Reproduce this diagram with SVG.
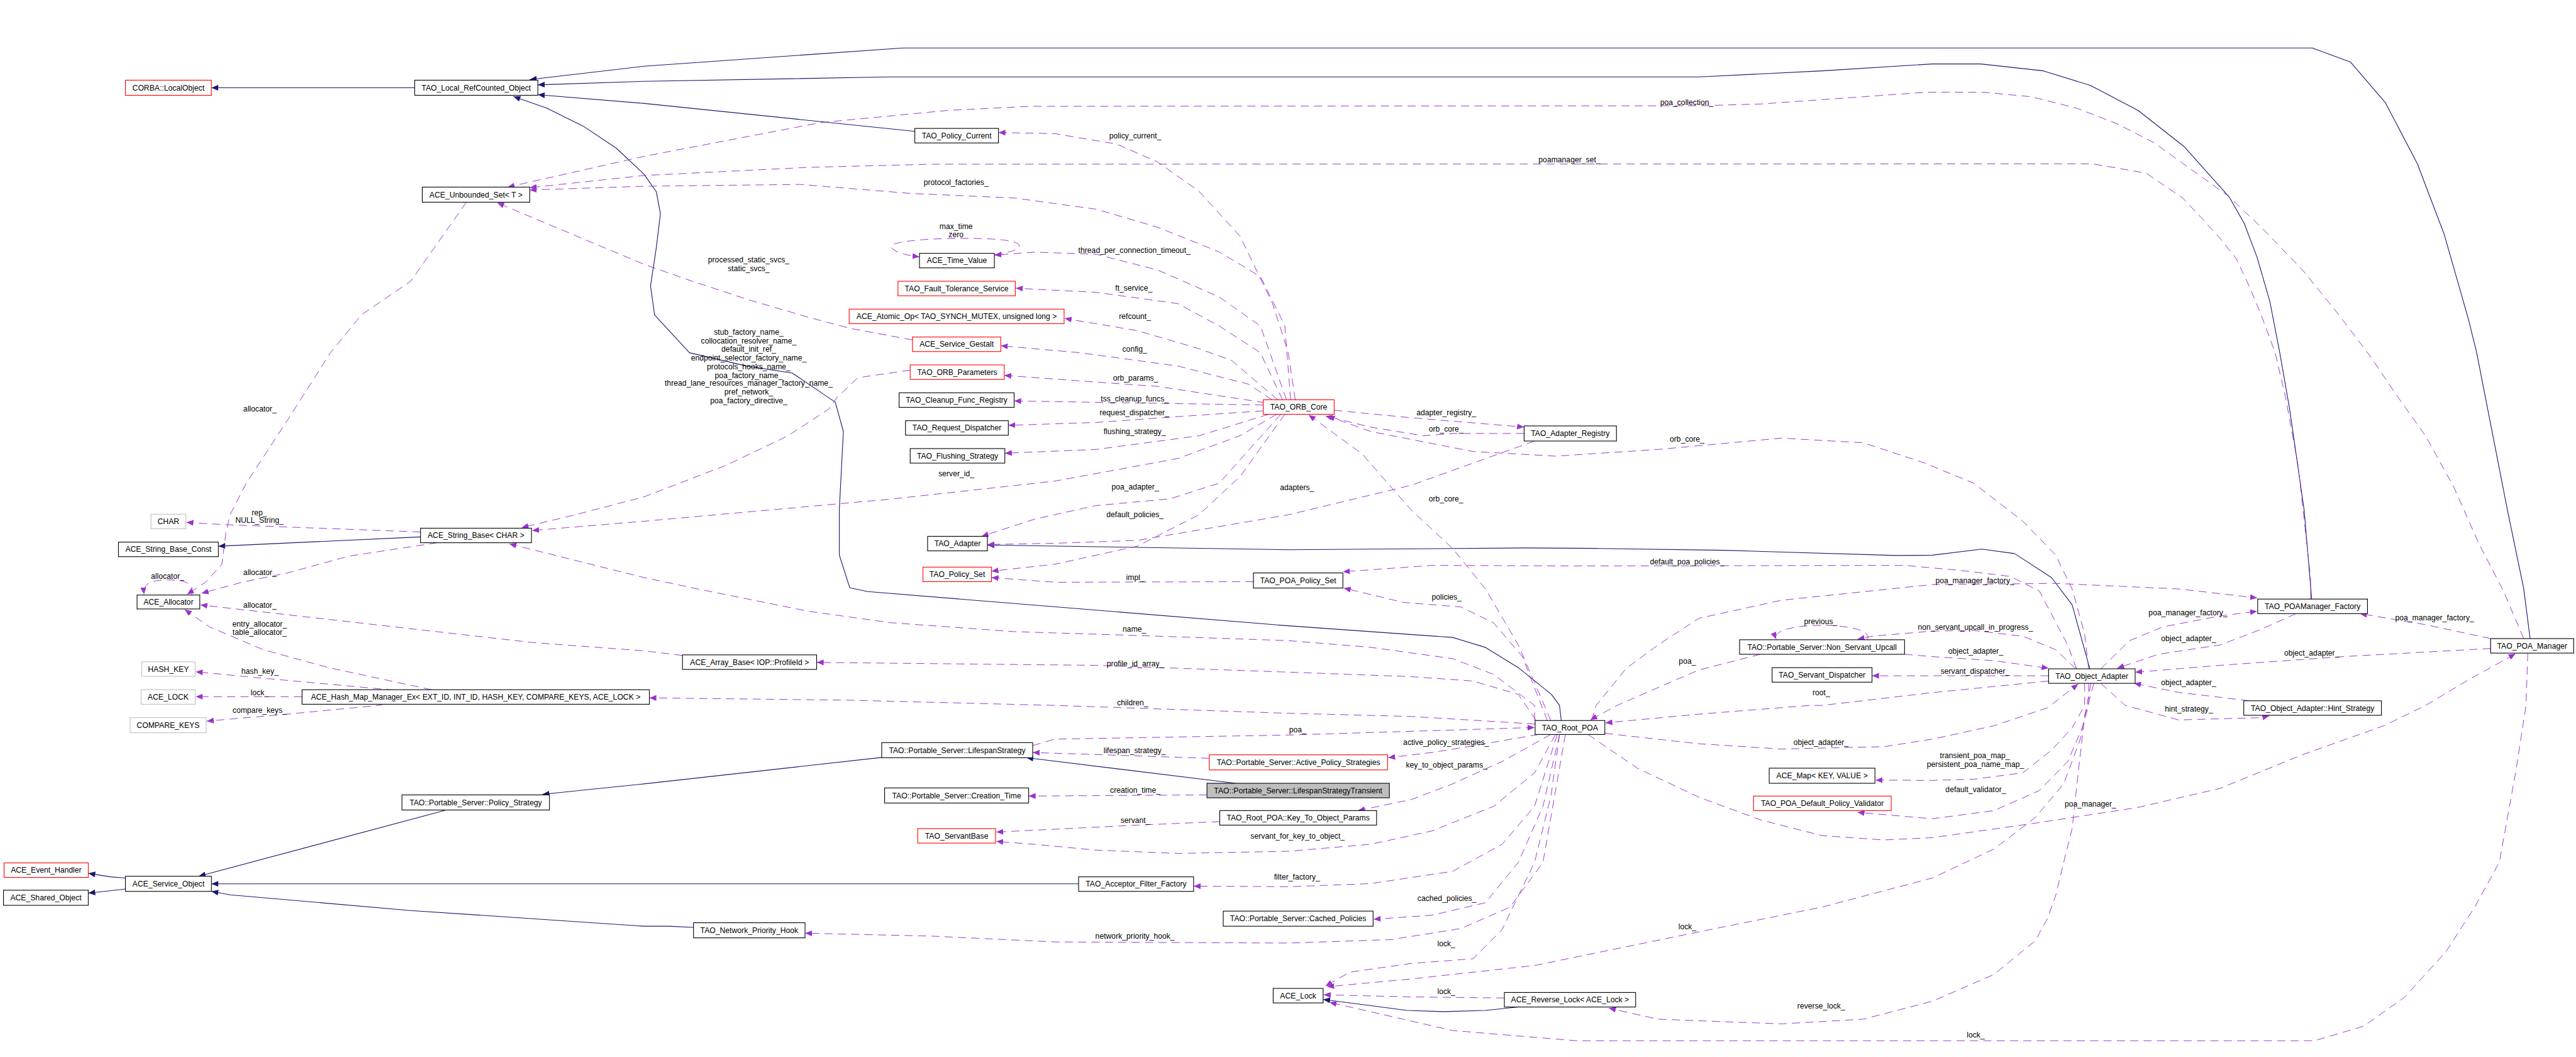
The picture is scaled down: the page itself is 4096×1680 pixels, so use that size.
<svg xmlns="http://www.w3.org/2000/svg" width="4096" height="1680" viewBox="0 0 4096 1680">
<style>
.n rect{fill:#fff;stroke:#000;stroke-width:1.2}
.r rect{stroke:#ff0000}
.g rect{stroke:#bfbfbf}
.f rect{fill:#bfbfbf}
text{font-family:"Liberation Sans",Arial,sans-serif;font-size:13.2px;text-anchor:middle;fill:#000}
.i{fill:none;stroke:#191970;stroke-width:1.2;stroke-linejoin:round;marker-end:url(#ai)}
.u{fill:none;stroke:#9a32cd;stroke-width:1.05;stroke-linejoin:round;stroke-dasharray:14 9;marker-end:url(#au)}
</style>
<defs>
<marker id="ai" markerUnits="userSpaceOnUse" markerWidth="12" markerHeight="10" refX="12" refY="5" orient="auto"><path d="M0,0 L12,5 L0,10 z" fill="#191970"/></marker>
<marker id="au" markerUnits="userSpaceOnUse" markerWidth="12" markerHeight="10" refX="12" refY="5" orient="auto"><path d="M0,0 L12,5 L0,10 z" fill="#9a32cd"/></marker>
</defs>
<rect width="4096" height="1680" fill="#fff"/>
<g transform="scale(0.92356)">
<g id="connectors">
<polyline class="i" points="714,151 364,151"/>
<polyline class="i" points="4356,1099 4345,1013 4317,878 4264,607 4250,550 4208,403 4162,282 4107,177 4047,107 3981,82.5 1555,82.5 1109,114 912,137"/>
<polyline class="i" points="3980,1031 3967,878 3942,704 3925,607 3908,519 3886,443 3864,385 3838,339 3760,252 3681,190 3599,147 3518,122 3410,110 3327,110 3137,122 2925,132.4 1531,132.4 1109,140 926,146"/>
<polyline class="i" points="1575,226 1109,178 926,163"/>
<polyline class="i" points="2688,1240 2685,1214 2671,1195 2614,1149 2557,1114 2501,1097 2218,1077 1494,1018 1463,1011.5 1445,955 1445,878 1452,742.5 1438,692 1364,642 1286,630 1187,607 1127,542 1120,492 1130,426 1137,368 1130,330 1109,300 1061,255 1004,217 941,186 884,166"/>
<polyline class="i" points="3598,1151 3567.5,1040.6 3532,994 3468.5,952.7 3412,945 3327,955.4 3265,956 2968,947 2748.5,943.8 2628,943 2218,946 1700,938"/>
<polyline class="i" points="724,924 376,940"/>
<polyline class="i" points="216,1511 190,1509 152,1503"/>
<polyline class="i" points="216,1530 180,1534 152,1537"/>
<polyline class="i" points="766,1394.6 342,1508"/>
<polyline class="i" points="1857,1521 364,1521"/>
<polyline class="i" points="1194,1596 1151,1594 1109,1594 707,1567 396,1540 364,1534"/>
<polyline class="i" points="1518,1303.5 1109,1349 934,1367"/>
<polyline class="i" points="2127.5,1348 1767,1304"/>
<polyline class="i" points="2614,1733 2557,1739 2487,1741 2423,1739 2278,1720"/>

<g><polyline class="u" points="4345,1099 4310,1017 4268,936 4225,839 4176,750 4126,680 4082,615 4027,542 3964,464.5 3893,391 3836,337 3765.5,286.5 3709,246 3645,213 3575,186 3497,166.5 3415,158.7 3317,158.7 3208,166.5 3031,179 2925,182 1774,183 1632,190 1413,211 1109,269 874,322"/><text x="2904" y="180.6">poa_collection_</text></g>
<g><polyline class="u" points="3978,1031 3978,994 3956.5,800.6 3935,684 3917,607 3893,542 3872,491.6 3850,445 3822,410 3794,379 3758,341 3695,298 3603,282 1604,282.6 1392,288 1109,302 912,323"/><text x="2702" y="279.5">poamanager_set_</text></g>
<g><polyline class="u" points="2222,688 2212,560 2170,476 2099,433.6 1993,391 1887,360 1745.5,340.7 1569,333 1378,317.4 1109,320.5 912,327"/><text x="1646" y="318.2">protocol_factories_</text></g>
<g><polyline class="u" points="1571,585 1463,565 1392,546 1286,515 1180,480 1109,455 856,349"/><text x="1289" y="451.6">processed_static_svcs_</text><text x="1289" y="466.6">static_svcs_</text></g>
<g><polyline class="u" points="803,348 707,484 622,542 569,607 495,723 424,831.5 396,886 389,917 382,971 354,1002 322,1023"/><text x="447.5" y="708.6">allocator_</text></g>
<g><path class="u" d="M330,1024 C336,1004 318,998 290,998 C260,998 246,1004 248,1023"/><text x="288.5" y="996">allocator_</text></g>
<g><polyline class="u" points="753,934 601,957 495,986 417,1002 347,1021"/><text x="447.5" y="990.2">allocator_</text></g>
<g><polyline class="u" points="743,1187 566,1149 453,1118 361,1079 318,1049"/><text x="447" y="1078.6">entry_allocator_</text><text x="447" y="1092">table_allocator_</text></g>
<g><polyline class="u" points="1175,1128 1109,1120 919,1106 566,1066 345,1041"/><text x="447.5" y="1046.4">allocator_</text></g>
<g><polyline class="u" points="724,915.5 495,907 389,903 321,899"/><text x="446.6" y="886.6">rep_</text><text x="446.6" y="900">NULL_String_</text></g>
<g><polyline class="u" points="679,1187.7 424,1164.5 337,1156"/><text x="447.5" y="1160.2">hash_key_</text></g>
<g><polyline class="u" points="520,1199 337,1199"/><text x="447" y="1196.2">lock_</text></g>
<g><polyline class="u" points="661,1212 651,1214 495,1229 356,1241"/><text x="447" y="1227.1">compare_keys_</text></g>
<g><polyline class="u" points="1567,637 1477,650 1441,684 1427,704 1356.5,750 1250.5,800.6 1109,855 990,886 898,908"/>
<text x="1289" y="576.4">stub_factory_name_</text><text x="1289" y="591.5">collocation_resolver_name_</text><text x="1289" y="605.8">default_init_ref_</text><text x="1289" y="620.1">endpoint_selector_factory_name_</text><text x="1289" y="635.2">protocols_hooks_name_</text><text x="1289" y="650.3">poa_factory_name_</text><text x="1289" y="664.2">thread_lane_resources_manager_factory_name_</text><text x="1289" y="679.3">pref_network_</text><text x="1289" y="694.4">poa_factory_directive_</text></g>
<g><polyline class="u" points="2198,713 2134.5,750 2028,789 1816,828 1533,859 1109,897 916,913"/><text x="1646.5" y="819.5">server_id_</text></g>
<g><polyline class="u" points="2642,1240 2642,1214 2571.6,1160.6 2501,1133.5 2359.5,1114 2218,1102.5 1993,1094.8 1745.5,1087 1533,1071.6 1392,1052 1201,1013.5 1109,994 877,936"/><text x="1953" y="1086.6">name_</text></g>
<g><path class="u" d="M1712,438 C1765,432 1778,414 1700,411 C1620,408 1522,414 1535,427 C1545,436 1565,440 1583,442"/><text x="1646" y="394.4">max_time</text><text x="1646" y="408.6">zero</text></g>
<g><polyline class="u" points="2215,688 2170,561 2099,511 1993,464.6 1887,437.5 1781,434 1712,439"/><text x="1953" y="435.6">thread_per_connection_timeout_</text></g>
<g><polyline class="u" points="2208,688 2170,607 2099,561 2028,522.6 1887,503 1749,496"/><text x="1952" y="500.1">ft_service_</text></g>
<g><polyline class="u" points="2200,688 2120,620 2064,600 1958,569 1833,548"/><text x="1954" y="548.6">refcount_</text></g>
<g><polyline class="u" points="2190,688 2149,661 2028,630 1859,607 1723,595"/><text x="1953.5" y="605.6">config_</text></g>
<g><polyline class="u" points="2178,693 1993,665 1852,655 1729,646"/><text x="1955" y="655.3">orb_params_</text></g>
<g><polyline class="u" points="2175,697 1746,690"/><text x="1953.5" y="691.3">tss_cleanup_funcs_</text></g>
<g><polyline class="u" points="2175,707 2028,717 1887,727 1736,732"/><text x="1953" y="714.2">request_dispatcher_</text></g>
<g><polyline class="u" points="2184,713 2064,750 1887,773.5 1730,780"/><text x="1953.5" y="747.1">flushing_strategy_</text></g>
<g><polyline class="u" points="2205,713 2099,831.5 2014,858.6 1887,870 1781,893.5 1690,923"/><text x="1954.5" y="842.6">poa_adapter_</text></g>
<g><polyline class="u" points="2212,713 2135,820 2064,886 1958,940 1816,971 1707,983"/><text x="1954" y="890.3">default_policies_</text></g>
<g><polyline class="u" points="2642,759 2430,835 2218,886 1958,930 1816,935 1700,937"/><text x="2233" y="843.9">adapters_</text></g>
<g><polyline class="u" points="2297,706 2430,719 2624,735"/><text x="2490" y="714.2">adapter_registry_</text></g>
<g><polyline class="u" points="2624,746 2501,746 2451,750 2359.5,735 2282,716"/><text x="2489.5" y="743.2">orb_core_</text></g>
<g><polyline class="u" points="3596,1151 3589,1091 3567.5,1013.5 3539,955 3482.6,897 3398,831.5 3314,797 3208,762 3067,754 2854.5,773.5 2678,785 2536,777 2359.5,742.5 2286,716"/><text x="2904.5" y="760.6">orb_core_</text></g>
<g><polyline class="u" points="2670,1240 2614,1110 2557.5,1013.5 2501,944 2430,878 2345,781 2253,714"/><text x="2489.5" y="862.5">orb_core_</text></g>
<g><polyline class="u" points="2230,688 2218,607 2191,522.6 2135,406.5 2064,329 1993,278.7 1922,247.8 1816,230 1719,228"/><text x="1954.5" y="238.4">policy_current_</text></g>
<g><polyline class="u" points="2158,1001 1816,1002 1707,994"/><text x="1954.5" y="998.6">impl_</text></g>
<g><polyline class="u" points="3575,1151 3560,1110 3511,1017 3461,992 3383.6,982.5 3279,973 2713,974 2465.5,973 2312,984"/><text x="2904.5" y="971.2">default_poa_policies_</text></g>
<g><polyline class="u" points="2664,1240 2621,1130 2571.6,1072 2515,1044.5 2416,1036.7 2313.5,1012"/><text x="2490.5" y="1032.4">policies_</text></g>
<g><polyline class="u" points="2740,1240 2748,1214 2800,1150 2854.5,1110 2925,1064 3067,1033 3327,1006 3539,1004 3751,1013.5 3886,1029"/><text x="3400" y="1003.4">poa_manager_factory_</text></g>
<g><polyline class="u" points="3617,1151 3666.5,1102.5 3723,1079 3822,1060 3886,1052"/><text x="3767" y="1059.5">poa_manager_factory_</text></g>
<g><polyline class="u" points="4288,1099 4176,1075 4063,1056"/><text x="4191.5" y="1067.2">poa_manager_factory_</text></g>
<g><polyline class="u" points="3953,1056 3893,1083 3822,1110 3716,1126 3645,1150"/><text x="3768" y="1103.2">object_adapter_</text></g>
<g><polyline class="u" points="4288,1116 4034,1130 3822,1145 3676,1157"/><text x="3980" y="1128.4">object_adapter_</text></g>
<g><polyline class="u" points="3872,1206 3751,1191.6 3674,1176"/><text x="3768" y="1179.5">object_adapter_</text></g>
<g><polyline class="u" points="2763,1262 2925,1280 3067,1289 3243.5,1285 3327,1272 3433,1249 3525,1218 3578,1177"/><text x="3135" y="1282.3">object_adapter_</text></g>
<g><polyline class="u" points="3279,1126 3327,1130 3433,1137 3527,1150"/><text x="3401.5" y="1124.6">object_adapter_</text></g>
<g><polyline class="u" points="3574,1151 3539,1118 3483,1095 3398,1085 3327,1086 3222,1095 3198,1100"/><text x="3401" y="1083.6">non_servant_upcall_in_progress_</text></g>
<g><path class="u" d="M3215,1101 C3232,1068 3044,1068 3058,1100"/><text x="3134.5" y="1074.2">previous_</text></g>
<g><polyline class="u" points="3031,1126 2925,1153 2890,1168 2784,1214 2738,1239"/><text x="2905" y="1142.6">poa_</text></g>
<g><polyline class="u" points="3527,1163 3223,1163"/><text x="3400.5" y="1159.4">servant_dispatcher_</text></g>
<g><polyline class="u" points="3527,1172 3327,1192 3137,1214 3116,1214 2925,1229 2764,1244"/><text x="3135.5" y="1196.6">root_</text></g>
<g><polyline class="u" points="3617,1176 3659,1214 3674,1218 3751,1239 3893,1235 3907,1232"/><text x="3768.5" y="1224.4">hint_strategy_</text></g>
<g><polyline class="u" points="3589,1176 3589,1214 3567.5,1252.6 3532,1291 3482.6,1330 3398,1341 3327,1343 3229,1342.5"/><text x="3400" y="1304.3">transient_poa_map_</text><text x="3401" y="1319.6">persistent_poa_name_map_</text></g>
<g><polyline class="u" points="3596,1176 3596,1214 3585,1252.6 3560,1310.5 3511,1360.6 3433,1395 3327,1409 3198,1398"/><text x="3401.5" y="1363.3">default_validator_</text></g>
<g><polyline class="u" points="2734,1264 2819,1322 2925,1372 3031,1411 3137,1438 3243.5,1445.5 3327,1441.6 3504,1416.6 3680.6,1389.6 3822,1356.8 3963.5,1299 4105,1248.7 4176,1214 4246.5,1172 4331,1125"/><text x="3599" y="1388.4">poa_manager_</text></g>
<g><polyline class="u" points="4352,1124 4349,1214 4331,1330 4303,1484 4260.6,1561 4211,1638 4140,1716 4069.6,1766 3985,1791 2713,1791 2501,1773.5 2289,1725"/><text x="3401.5" y="1785.6">lock_</text></g>
<g><polyline class="u" points="3600,1176 3589,1233 3581.6,1272 3553,1349 3504,1407 3433,1461 3327,1511 3137,1561 2925,1603.7 2642,1661.6 2430,1684.7 2285,1698"/><text x="2905" y="1599.4">lock_</text></g>
<g><polyline class="u" points="3605,1176 3589,1233 3578,1330 3567.5,1426 3553,1484 3539,1542 3525,1580.6 3504,1619 3433,1677 3327,1723 3208,1754 3067,1762 2854.5,1754 2770,1735"/><text x="3135.5" y="1735.6">reverse_lock_</text></g>
<g><polyline class="u" points="2685,1264 2670.6,1368 2642,1484 2586,1600 2536,1650 2430,1658 2324,1673 2282,1697"/><text x="2490" y="1628.4">lock_</text></g>
<g><polyline class="u" points="2590,1717.5 2430,1715.6 2279,1712"/><text x="2490" y="1710.6">lock_</text></g>
<g><polyline class="u" points="1778,1283 1816,1272 2218,1265 2642,1252"/><text x="2234" y="1260.3">poa_</text></g>
<g><polyline class="u" points="2082,1305 1778,1295"/><text x="1953.5" y="1296.6">lifespan_strategy_</text></g>
<g><polyline class="u" points="2649,1264 2536,1283.5 2465.5,1295 2390,1304"/><text x="2489.5" y="1282.3">active_policy_strategies_</text></g>
<g><polyline class="u" points="2670,1264 2586,1310.5 2501,1349 2430,1376 2338,1395"/><text x="2490.5" y="1320.6">key_to_object_params_</text></g>
<g><polyline class="u" points="2078,1368 1771,1370"/><text x="1954.5" y="1364.4">creation_time_</text></g>
<g><polyline class="u" points="2100,1414 1958,1420 1715,1432"/><text x="1954.5" y="1416.6">servant_</text></g>
<g><polyline class="u" points="2678,1264 2642,1330 2571.6,1387.6 2465.5,1430 2359.5,1453 2218,1465 2028,1468.7 1887,1463 1781,1453 1715,1448"/><text x="2234" y="1443.6">servant_for_key_to_object_</text></g>
<g><polyline class="u" points="2681,1264 2642,1387.6 2586,1453 2501,1499.5 2359.5,1520.7 2218,1526 2055,1525"/><text x="2233" y="1513.6">filter_factory_</text></g>
<g><polyline class="u" points="2685,1264 2656.5,1387.6 2614,1484 2557.5,1553.5 2465.5,1575 2365,1582"/><text x="2491" y="1550.4">cached_policies_</text></g>
<g><polyline class="u" points="2695,1264 2656.5,1484 2600,1561 2515,1598 2395,1617 2218,1623 1816,1621 1604,1611 1386,1606"/><text x="1954" y="1616">network_priority_hook_</text></g>
<g><polyline class="u" points="2645,1240 2614,1195 2536,1172 2430,1164.5 2218,1156.7 1887,1145 1406,1140"/><text x="1954.5" y="1146.2">profile_id_array_</text></g>
<g><polyline class="u" points="2643,1246 2430,1233 2218,1227.5 1816,1214 1462.6,1205 1118,1201"/><text x="1950" y="1213.6">children_</text></g>
</g>

<g id="n_corba_localobject" class="n r"><rect x="216" y="138" width="148" height="26"/><text x="290" y="155.6">CORBA::LocalObject</text></g>
<g id="n_local_refcounted_object" class="n"><rect x="714" y="138" width="212" height="26"/><text x="820" y="155.6">TAO_Local_RefCounted_Object</text></g>
<g id="n_unbounded_set" class="n"><rect x="727" y="322" width="185" height="26"/><text x="819.5" y="339.6">ACE_Unbounded_Set&lt; T &gt;</text></g>
<g id="n_policy_current" class="n"><rect x="1575" y="221" width="144" height="25"/><text x="1647" y="238.1">TAO_Policy_Current</text></g>
<g id="n_time_value" class="n"><rect x="1583" y="436" width="129" height="25"/><text x="1647.5" y="453.1">ACE_Time_Value</text></g>
<g id="n_fault_tolerance" class="n r"><rect x="1546" y="484" width="202" height="25"/><text x="1647" y="501.1">TAO_Fault_Tolerance_Service</text></g>
<g id="n_atomic_op" class="n r"><rect x="1462" y="532" width="370" height="25"/><text x="1647" y="549.1">ACE_Atomic_Op&lt; TAO_SYNCH_MUTEX, unsigned long &gt;</text></g>
<g id="n_service_gestalt" class="n r"><rect x="1571" y="580" width="152" height="25"/><text x="1647" y="597.1">ACE_Service_Gestalt</text></g>
<g id="n_orb_parameters" class="n r"><rect x="1567" y="628" width="162" height="25"/><text x="1648" y="645.1">TAO_ORB_Parameters</text></g>
<g id="n_cleanup_func_registry" class="n"><rect x="1548" y="676" width="198" height="25"/><text x="1647" y="693.1">TAO_Cleanup_Func_Registry</text></g>
<g id="n_request_dispatcher" class="n"><rect x="1559" y="724" width="177" height="25"/><text x="1647.5" y="741.1">TAO_Request_Dispatcher</text></g>
<g id="n_flushing_strategy" class="n"><rect x="1567" y="772" width="163" height="25"/><text x="1648.5" y="789.1">TAO_Flushing_Strategy</text></g>
<g id="n_adapter" class="n"><rect x="1597" y="923" width="103" height="25"/><text x="1648.5" y="940.1">TAO_Adapter</text></g>
<g id="n_policy_set" class="n r"><rect x="1589" y="976" width="118" height="25"/><text x="1648" y="993.1">TAO_Policy_Set</text></g>
<g id="n_poa_policy_set" class="n"><rect x="2158" y="986" width="154" height="26"/><text x="2235" y="1003.6">TAO_POA_Policy_Set</text></g>
<g id="n_array_base" class="n"><rect x="1175" y="1127" width="231" height="25"/><text x="1290.5" y="1144.1">ACE_Array_Base&lt; IOP::ProfileId &gt;</text></g>
<g id="n_orb_core" class="n r"><rect x="2175" y="688" width="122" height="25"/><text x="2236" y="705.1">TAO_ORB_Core</text></g>
<g id="n_adapter_registry" class="n"><rect x="2624" y="733" width="159" height="26"/><text x="2703.5" y="750.6">TAO_Adapter_Registry</text></g>
<g id="n_non_servant_upcall" class="n"><rect x="2995" y="1101" width="284" height="25"/><text x="3137" y="1118.1">TAO::Portable_Server::Non_Servant_Upcall</text></g>
<g id="n_servant_dispatcher" class="n"><rect x="3051" y="1149" width="172" height="25"/><text x="3137" y="1166.1">TAO_Servant_Dispatcher</text></g>
<g id="n_poamanager_factory" class="n"><rect x="3887" y="1031" width="189" height="25"/><text x="3981.5" y="1048.1">TAO_POAManager_Factory</text></g>
<g id="n_poa_manager" class="n"><rect x="4288" y="1099" width="143" height="25"/><text x="4359.5" y="1116.1">TAO_POA_Manager</text></g>
<g id="n_object_adapter" class="n"><rect x="3527" y="1151" width="149" height="25"/><text x="3601.5" y="1168.1">TAO_Object_Adapter</text></g>
<g id="n_hint_strategy" class="n"><rect x="3863" y="1206" width="237" height="25"/><text x="3981.5" y="1223.1">TAO_Object_Adapter::Hint_Strategy</text></g>
<g id="n_char" class="n g"><rect x="260" y="885" width="60" height="25"/><text x="290" y="902.1">CHAR</text></g>
<g id="n_string_base_const" class="n"><rect x="204" y="933" width="172" height="25"/><text x="290" y="950.1">ACE_String_Base_Const</text></g>
<g id="n_string_base" class="n"><rect x="724" y="909" width="191" height="25"/><text x="819.5" y="926.1">ACE_String_Base&lt; CHAR &gt;</text></g>
<g id="n_allocator" class="n"><rect x="236" y="1024" width="108" height="24"/><text x="290" y="1040.6">ACE_Allocator</text></g>
<g id="n_hash_key" class="n g"><rect x="244" y="1139" width="92" height="25"/><text x="290" y="1156.1">HASH_KEY</text></g>
<g id="n_ace_lock_param" class="n g"><rect x="243" y="1187" width="93" height="25"/><text x="289.5" y="1204.1">ACE_LOCK</text></g>
<g id="n_hash_map_manager" class="n"><rect x="520" y="1187" width="598" height="25"/><text x="819" y="1204.1">ACE_Hash_Map_Manager_Ex&lt; EXT_ID, INT_ID, HASH_KEY, COMPARE_KEYS, ACE_LOCK &gt;</text></g>
<g id="n_compare_keys" class="n g"><rect x="224" y="1235" width="131" height="26"/><text x="289.5" y="1252.6">COMPARE_KEYS</text></g>
<g id="n_policy_strategy" class="n"><rect x="692" y="1368" width="254" height="26"/><text x="819" y="1385.6">TAO::Portable_Server::Policy_Strategy</text></g>
<g id="n_event_handler" class="n r"><rect x="7" y="1485" width="145" height="25"/><text x="79.5" y="1502.1">ACE_Event_Handler</text></g>
<g id="n_service_object" class="n"><rect x="216" y="1508" width="148" height="26"/><text x="290" y="1525.6">ACE_Service_Object</text></g>
<g id="n_shared_object" class="n"><rect x="6" y="1532" width="146" height="26"/><text x="79" y="1549.6">ACE_Shared_Object</text></g>
<g id="n_lifespan_strategy" class="n"><rect x="1518" y="1278" width="260" height="26"/><text x="1648" y="1295.6">TAO::Portable_Server::LifespanStrategy</text></g>
<g id="n_active_policy_strategies" class="n r"><rect x="2082" y="1299" width="307" height="26"/><text x="2235.5" y="1316.6">TAO::Portable_Server::Active_Policy_Strategies</text></g>
<g id="n_lifespan_strategy_transient" class="n f"><rect x="2078" y="1348" width="314" height="25"/><text x="2235" y="1365.1">TAO::Portable_Server::LifespanStrategyTransient</text></g>
<g id="n_creation_time" class="n"><rect x="1523" y="1356" width="248" height="26"/><text x="1647" y="1373.6">TAO::Portable_Server::Creation_Time</text></g>
<g id="n_key_to_object_params" class="n"><rect x="2100" y="1395" width="270" height="25"/><text x="2235" y="1412.1">TAO_Root_POA::Key_To_Object_Params</text></g>
<g id="n_servant_base" class="n r"><rect x="1580" y="1426" width="134" height="25"/><text x="1647" y="1443.1">TAO_ServantBase</text></g>
<g id="n_acceptor_filter_factory" class="n"><rect x="1857" y="1509" width="198" height="25"/><text x="1956" y="1526.1">TAO_Acceptor_Filter_Factory</text></g>
<g id="n_cached_policies" class="n"><rect x="2106" y="1568" width="258" height="26"/><text x="2235" y="1585.6">TAO::Portable_Server::Cached_Policies</text></g>
<g id="n_network_priority_hook" class="n"><rect x="1194" y="1588" width="192" height="26"/><text x="1290" y="1605.6">TAO_Network_Priority_Hook</text></g>
<g id="n_ace_lock" class="n"><rect x="2192" y="1701" width="86" height="25"/><text x="2235" y="1718.1">ACE_Lock</text></g>
<g id="n_root_poa" class="n"><rect x="2643" y="1240" width="120" height="24"/><text x="2703" y="1256.6">TAO_Root_POA</text></g>
<g id="n_ace_map" class="n"><rect x="3046" y="1322" width="182" height="26"/><text x="3137" y="1339.6">ACE_Map&lt; KEY, VALUE &gt;</text></g>
<g id="n_default_policy_validator" class="n r"><rect x="3019" y="1370" width="237" height="25"/><text x="3137.5" y="1387.1">TAO_POA_Default_Policy_Validator</text></g>
<g id="n_reverse_lock" class="n"><rect x="2590" y="1708" width="226" height="25"/><text x="2703" y="1725.1">ACE_Reverse_Lock&lt; ACE_Lock &gt;</text></g>
</g>
</svg>
